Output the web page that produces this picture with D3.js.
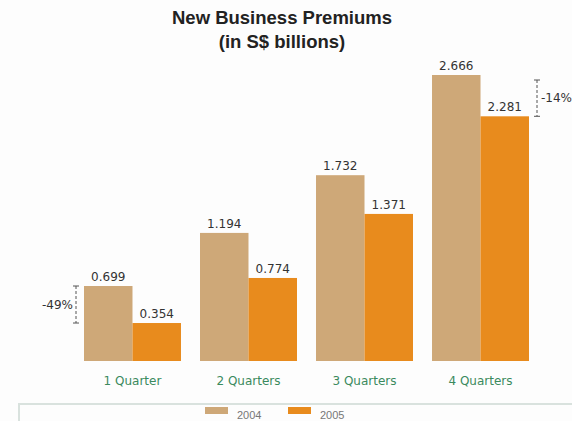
<!DOCTYPE html>
<html>
<head>
<meta charset="utf-8">
<script src="https://cdn.jsdelivr.net/npm/d3@7"></script>
<style>
body { margin: 0; background: #fdfdfd; }
svg { display: block; }
</style>
</head>
<body>
<svg id="chart" width="572" height="421"></svg>
<script>
var categories = ["1 Quarter", "2 Quarters", "3 Quarters", "4 Quarters"];
var years = ["2004", "2005"];
var values2004 = [0.699, 1.194, 1.732, 2.666];
var values2005 = [0.354, 0.774, 1.371, 2.281];
var changeLabels = [{ i: 0, text: "-49%", side: "left" }, { i: 3, text: "-14%", side: "right" }];
var colors = ["#cea878", "#e88b1d"];

var svg = d3.select("#chart");
var font = "'Liberation Sans', Arial, sans-serif";
var tickFont = "'DejaVu Sans', sans-serif";

svg.append("text").attr("x", 282).attr("y", 24).attr("text-anchor", "middle").attr("font-family", font).attr("font-weight", "bold").attr("font-size", "18.5px").attr("fill", "#222").text("New Business Premiums");
svg.append("text").attr("x", 282).attr("y", 48).attr("text-anchor", "middle").attr("font-family", font).attr("font-weight", "bold").attr("font-size", "18.5px").attr("fill", "#222").text("(in S$ billions)");

var x0 = d3.scaleBand().domain(categories).range([84, 529]).paddingInner(0.164).paddingOuter(0);
var x1 = d3.scaleBand().domain(years).range([0, x0.bandwidth()]);
var y = d3.scaleLinear().domain([0, 2.666]).range([361, 75]);

var data = categories.map(function (c, i) {
	return { cat: c, vals: [values2004[i], values2005[i]] };
});

var groups = svg.selectAll("g.grp").data(data).enter().append("g").attr("class", "grp").attr("transform", function (d) { return "translate(" + x0(d.cat) + ",0)"; });

groups.selectAll("rect").data(function (d) { return d.vals.map(function (v, j) { return { v: v, yr: years[j], j: j }; }); }).enter().append("rect")
	.attr("x", function (d) { return x1(d.yr); })
	.attr("y", function (d) { return y(d.v); })
	.attr("width", x1.bandwidth())
	.attr("height", function (d) { return y(0) - y(d.v); })
	.attr("fill", function (d) { return colors[d.j]; });

groups.selectAll("text.val").data(function (d) { return d.vals.map(function (v, j) { return { v: v, yr: years[j] }; }); }).enter().append("text").attr("class", "val")
	.attr("x", function (d) { return x1(d.yr) + x1.bandwidth() / 2; })
	.attr("y", function (d) { return y(d.v) - 5; })
	.attr("text-anchor", "middle").attr("font-family", tickFont).attr("font-size", "12px").attr("fill", "#333")
	.text(function (d) { return d3.format(".3f")(d.v); });

svg.selectAll("text.cat").data(categories).enter().append("text").attr("class", "cat")
	.attr("x", function (d) { return x0(d) + x0.bandwidth() / 2; })
	.attr("y", 385).attr("text-anchor", "middle").attr("font-family", tickFont).attr("font-size", "12px").attr("fill", "#3b8a5e")
	.text(function (d) { return d; });

// change markers
changeLabels.forEach(function (c) {
	var top = y(values2004[c.i]);
	var bot = y(values2005[c.i]);
	var lx = c.side == "left" ? x0(categories[c.i]) - 8 : x0(categories[c.i]) + x0.bandwidth() + 8;
	if (c.side == "right") top += 5;
	var g = svg.append("g").attr("stroke", "#555").attr("stroke-width", 1);
	g.append("line").attr("x1", lx).attr("x2", lx).attr("y1", top).attr("y2", bot).attr("stroke-dasharray", "3,2");
	g.append("line").attr("x1", lx - 3).attr("x2", lx + 3).attr("y1", top).attr("y2", top);
	g.append("line").attr("x1", lx - 3).attr("x2", lx + 3).attr("y1", bot).attr("y2", bot);
	svg.append("text").attr("x", c.side == "left" ? lx - 3 : lx + 4).attr("y", (top + bot) / 2 + 4)
		.attr("text-anchor", c.side == "left" ? "end" : "start").attr("font-family", tickFont).attr("font-size", "12px").attr("fill", "#333").text(c.text);
});

// legend box
svg.append("path").attr("d", "M19,421 V404 H572").attr("fill", "none").attr("stroke", "#d9e2de").attr("stroke-width", 2);
var leg = svg.selectAll("g.leg").data(years).enter().append("g").attr("class", "leg").attr("transform", function (d, i) { return "translate(" + (205 + i * 83) + ",0)"; });
leg.append("rect").attr("x", 0).attr("y", 407).attr("width", 23).attr("height", 7).attr("fill", function (d, i) { return colors[i]; });
leg.append("text").attr("x", 32).attr("y", 419).attr("font-family", font).attr("font-size", "11px").attr("fill", "#777").text(function (d) { return d; });
</script>
</body>
</html>
